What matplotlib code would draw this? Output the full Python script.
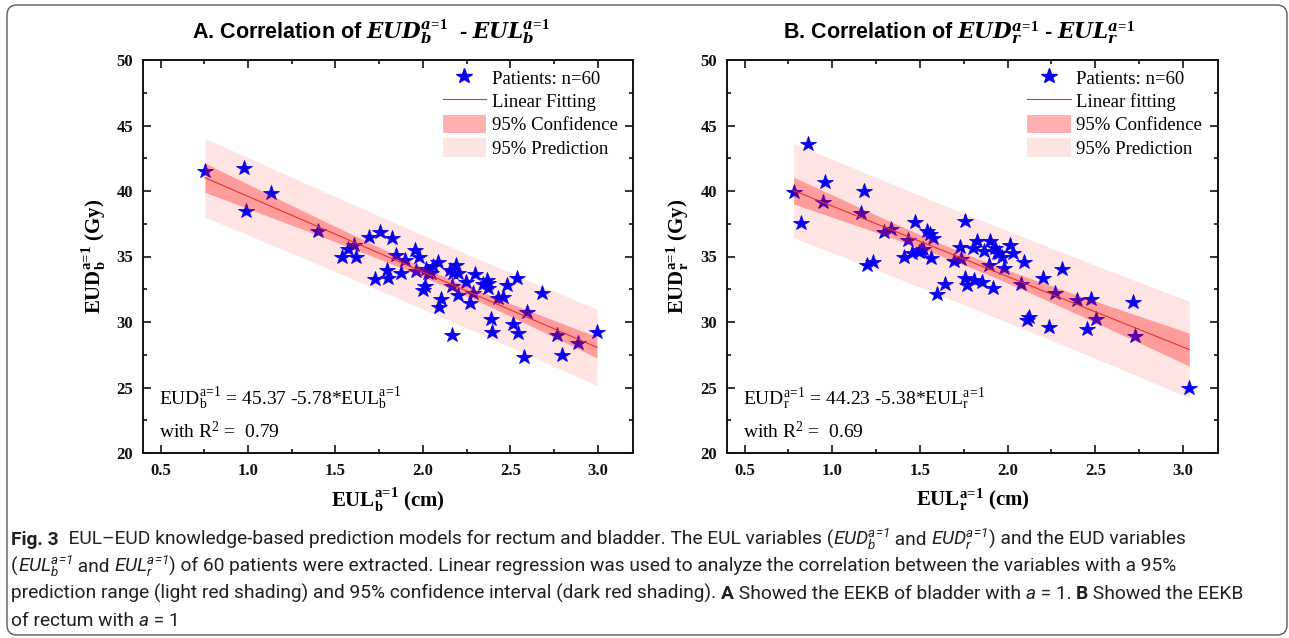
import numpy as np
import matplotlib
matplotlib.use("Agg")
import matplotlib.pyplot as plt
from matplotlib.lines import Line2D
from matplotlib.patches import Patch, FancyBboxPatch
from matplotlib.ticker import MultipleLocator, FormatStrFormatter

# ---------------- data ----------------
eul_b = [0.754, 0.978, 0.991, 1.134, 1.402, 1.536, 1.574, 1.608, 1.618, 1.694,
         1.756, 1.822, 1.727, 1.794, 1.799, 1.847, 1.872, 1.899, 1.954, 1.977,
         1.958, 2.010, 2.000, 2.019, 2.044, 2.057, 2.083, 2.092, 2.105, 2.153,
         2.191, 2.200, 2.163, 2.200, 2.163, 2.245, 2.268, 2.287, 2.300, 2.344,
         2.373, 2.373, 2.386, 2.392, 2.430, 2.459, 2.478, 2.536, 2.516, 2.541,
         2.579, 2.596, 2.682, 2.768, 2.793, 2.883, 2.994, 2.172, 2.029, 2.363]
eud_b = [41.53, 41.78, 38.50, 39.87, 36.95, 34.98, 35.60, 35.88, 34.94, 36.51,
         36.90, 36.39, 33.28, 33.97, 33.33, 35.11, 33.77, 34.73, 35.50, 34.98,
         33.89, 32.75, 32.44, 34.02, 33.72, 34.27, 34.60, 31.17, 31.73, 33.97,
         34.35, 33.72, 32.77, 32.06, 29.00, 33.03, 31.43, 32.24, 33.64, 32.88,
         32.95, 32.57, 30.20, 29.26, 31.81, 31.89, 32.82, 33.38, 29.85, 29.14,
         27.31, 30.74, 32.24, 29.00, 27.50, 28.37, 29.26, 33.72, 33.72, 33.20]

eul_r = [0.780, 0.820, 0.862, 0.948, 0.958, 1.162, 1.181, 1.196, 1.234, 1.297,
         1.334, 1.411, 1.434, 1.454, 1.473, 1.497, 1.520, 1.539, 1.558, 1.572,
         1.564, 1.597, 1.644, 1.692, 1.730, 1.734, 1.759, 1.759, 1.768, 1.803,
         1.826, 1.854, 1.863, 1.892, 1.902, 1.917, 1.930, 1.949, 1.968, 1.982,
         2.012, 2.031, 2.079, 2.092, 2.108, 2.121, 2.201, 2.235, 2.273, 2.312,
         2.398, 2.455, 2.474, 2.502, 2.718, 2.727, 3.036, 1.508, 1.940, 1.806]
eud_r = [39.90, 37.58, 43.59, 39.14, 40.71, 38.34, 40.02, 34.35, 34.56, 36.85,
         37.10, 34.98, 36.26, 35.24, 37.66, 35.32, 35.55, 36.97, 36.72, 36.44,
         34.86, 32.14, 32.88, 34.68, 35.75, 34.81, 37.73, 33.38, 32.82, 35.63,
         36.18, 33.08, 35.44, 34.35, 36.18, 32.62, 35.63, 35.24, 34.98, 34.15,
         35.88, 35.24, 32.90, 34.56, 30.15, 30.40, 33.38, 29.64, 32.19, 34.02,
         31.68, 29.44, 31.76, 30.23, 31.55, 28.93, 24.98, 35.47, 35.24, 33.20]

# fitted models: intercept, slope, R^2
fit_b = (45.37, -5.78)
fit_r = (44.23, -5.38)
r2_b = 0.79
r2_r = 0.69
n_patients = 60

x_ticks = [0.5, 1.0, 1.5, 2.0, 2.5, 3.0]
y_ticks = [20, 25, 30, 35, 40, 45, 50]

# ---------------- fonts ----------------
CAP_FONT = "Roboto"
plt.rcParams.update({
    "mathtext.fontset": "custom",
    "mathtext.rm": "Liberation Serif",
    "mathtext.it": "Liberation Serif:italic",
    "mathtext.bf": "Liberation Serif:bold",
    "mathtext.bfit": "DejaVu Serif:italic:bold",
    "mathtext.sf": CAP_FONT + ":italic",
})
SERIF = ["Liberation Serif", "DejaVu Serif"]
SANS = ["Liberation Sans", "DejaVu Sans"]
CAPF = [CAP_FONT, "DejaVu Sans"]

W, H = 1289, 638
fig = plt.figure(figsize=(W / 100, H / 100), dpi=100)
fig.patch.set_facecolor("white")

# full-figure overlay in pixel units for frame and caption
bg = fig.add_axes([0, 0, 1, 1], zorder=-5)
bg.set_xlim(0, W)
bg.set_ylim(H, 0)
bg.axis("off")
bg.add_patch(FancyBboxPatch((7, 5), W - 9, H - 8,
                            boxstyle="round,pad=0,rounding_size=10",
                            fc="none", ec="#5a5a5a", lw=1.0))

BLUE = "#0800ee"
RED_LINE = "#e8302a"
CONF_ALPHA = 0.31
PRED_ALPHA = 0.105
T_CRIT = 2.0017  # t(0.975, df=58)
A1 = r"\!=\!"    # tight '=' inside the a=1 scripts


def bands(x, y, coef, xs):
    x = np.asarray(x)
    y = np.asarray(y)
    n = len(x)
    resid = y - (coef[0] + coef[1] * x)
    s = np.sqrt(np.sum(resid ** 2) / (n - 2))
    xbar = x.mean()
    sxx = np.sum((x - xbar) ** 2)
    conf = T_CRIT * s * np.sqrt(1.0 / n + (xs - xbar) ** 2 / sxx)
    pred = T_CRIT * s * np.sqrt(1.0 + 1.0 / n + (xs - xbar) ** 2 / sxx)
    return conf, pred


def panel(rect, x, y, coef, r2, tag, sub, fit_label, title_x):
    ax = fig.add_axes(rect)
    ax.set_xlim(0.4, 3.2)
    ax.set_ylim(20, 50)

    xs = np.linspace(min(x), max(x), 200)
    yfit = coef[0] + coef[1] * xs
    conf, pred = bands(x, y, coef, xs)
    # prediction band under the points, confidence band over them
    ax.fill_between(xs, yfit - pred, yfit + pred, color="red",
                    alpha=PRED_ALPHA, lw=0, zorder=1)
    ax.plot(x, y, linestyle="none", marker="*", markersize=11.5,
            color=BLUE, markeredgecolor=BLUE, markeredgewidth=0.6, zorder=2)
    ax.fill_between(xs, yfit - conf, yfit + conf, color="red",
                    alpha=CONF_ALPHA, lw=0, zorder=4)
    ax.plot(xs, yfit, color=RED_LINE, lw=0.8, zorder=5)

    ax.set_xticks(x_ticks)
    ax.set_yticks(y_ticks)
    ax.xaxis.set_minor_locator(MultipleLocator(0.25))
    ax.yaxis.set_minor_locator(MultipleLocator(2.5))
    ax.xaxis.set_major_formatter(FormatStrFormatter("%.1f"))
    ax.tick_params(which="both", direction="in", top=True, right=True,
                   width=1.2, colors="#111111")
    ax.tick_params(which="major", length=5.8, pad=7)
    ax.tick_params(which="minor", length=3)
    for lab in ax.get_xticklabels() + ax.get_yticklabels():
        lab.set_fontfamily(SERIF)
        lab.set_fontweight("bold")
        lab.set_fontsize(12)
    for sp in ax.spines.values():
        sp.set_linewidth(1.4)
        sp.set_color("#111111")

    ax.set_xlabel(r"$\mathbf{EUL}_{\mathbf{%s}}^{\mathbf{a}%s\mathbf{1}}$ (cm)" % (sub, A1),
                  fontfamily=SERIF, fontweight="bold", fontsize=15, va="center")
    ax.xaxis.set_label_coords(0.5, -0.12)
    ax.set_ylabel(r"$\mathbf{EUD}_{\mathbf{%s}}^{\mathbf{a}%s\mathbf{1}}$ (Gy)" % (sub, A1),
                  fontfamily=SERIF, fontweight="bold", fontsize=15, va="center")
    ax.yaxis.set_label_coords(-0.10, 0.5)

    gap = "  - " if tag == "A" else " - "
    title = (tag + ". Correlation of "
             + r"$\mathbfit{EUD}_{\mathbfit{%s}}^{\mathbfit{a}%s\mathbf{1}}$" % (sub, A1)
             + gap
             + r"$\mathbfit{EUL}_{\mathbfit{%s}}^{\mathbfit{a}%s\mathbf{1}}$" % (sub, A1))
    ax.text(title_x, 1.055, title, transform=ax.transAxes, ha="center",
            va="baseline", fontfamily=SANS, fontweight="bold", fontsize=15.5)

    ax.text(0.033, 0.122,
            r"$\mathrm{EUD}_{\mathrm{%s}}^{\mathrm{a}%s1}$ = %.2f %.2f*$\mathrm{EUL}_{\mathrm{%s}}^{\mathrm{a}%s1}$"
            % (sub, A1, coef[0], coef[1], sub, A1),
            transform=ax.transAxes, fontfamily=SERIF, fontsize=14, va="baseline")
    ax.text(0.033, 0.038, r"with R$^2$ =  %.2f" % r2,
            transform=ax.transAxes, fontfamily=SERIF, fontsize=14, va="baseline")

    handles = [
        Line2D([], [], linestyle="none", marker="*", markersize=11.5, color=BLUE),
        Line2D([], [], color=RED_LINE, lw=0.8),
        Patch(facecolor="red", alpha=CONF_ALPHA, lw=0),
        Patch(facecolor="red", alpha=PRED_ALPHA, lw=0),
    ]
    labels = ["Patients: n=%d" % n_patients, fit_label,
              "95% Confidence", "95% Prediction"]
    ax.legend(handles, labels, loc="upper left", bbox_to_anchor=(0.612, 0.98),
              frameon=False, borderpad=0, borderaxespad=0,
              handlelength=2.3, handleheight=1.15, handletextpad=0.3,
              labelspacing=0.2, prop={"family": SERIF, "size": 13.5})
    return ax


panel([143 / W, 1 - 453 / H, 490 / W, 393 / H], eul_b, eud_b, fit_b, r2_b,
      "A", "b", "Linear Fitting", 0.466)
panel([727 / W, 1 - 453 / H, 491 / W, 393 / H], eul_r, eud_r, fit_r, r2_r,
      "B", "r", "Linear fitting", 0.473)

# ---------------- caption ----------------
CAP_COLOR = "#231f20"
CAP_LEFT = 11
CAP_LINE_ENDS = [1243, 1210, 1238, None]
renderer = fig.canvas.get_renderer()


def sf(name, org):
    return r"$\mathsf{%s_%s^{a%s1}}$" % (name, org, A1)


caption = [
    [("Fig. 3", "b"),
     ("  EUL\u2013EUD knowledge-based prediction models for rectum and bladder. "
      "The EUL variables (", "r"),
     (sf("EUD", "b"), "r"), (" and ", "r"),
     (sf("EUD", "r"), "r"), (") and the EUD variables", "r")],
    [("(", "r"), (sf("EUL", "b"), "r"), (" and ", "r"),
     (sf("EUL", "r"), "r"),
     (") of 60 patients were extracted. Linear regression was used to analyze "
      "the correlation between the variables with a 95%", "r")],
    [("prediction range (light red shading) and 95% confidence interval "
      "(dark red shading). ", "r"), ("A", "b"),
     (" Showed the EEKB of bladder with ", "r"), ("a", "i"), (" = 1. ", "r"),
     ("B", "b"), (" Showed the EEKB", "r")],
    [("of rectum with ", "r"), ("a", "i"), (" = 1", "r")],
]


def run_kw(style, size):
    kw = dict(fontsize=size, color=CAP_COLOR, va="baseline", ha="left",
              family=CAPF)
    if style == "b":
        kw["fontweight"] = "bold"
    elif style == "i":
        kw["fontstyle"] = "italic"
    return kw


def run_width(txt, kw):
    if txt.startswith("$"):
        t = bg.text(0, 0, txt, **kw)
        w = t.get_window_extent(renderer).width
        t.remove()
        return w
    t1 = bg.text(0, 0, "|" + txt + "|", **kw)
    t2 = bg.text(0, 0, "||", **kw)
    w = t1.get_window_extent(renderer).width - t2.get_window_extent(renderer).width
    t1.remove()
    t2.remove()
    return w


def line_width(runs, size):
    return sum(run_width(t, run_kw(s, size)) for t, s in runs)


# one caption size, small enough that every wrapped line fits its width
base = 12.0
cap_size = min(base * (end - CAP_LEFT) / line_width(line, base)
               for line, end in zip(caption, CAP_LINE_ENDS) if end)


def draw_runs(x0, y, runs, size):
    x = x0
    for txt, style in runs:
        kw = run_kw(style, size)
        w = run_width(txt, kw)
        bg.text(x, y, txt, **kw)
        x += w


for i, line in enumerate(caption):
    draw_runs(CAP_LEFT, 545 + i * 27, line, cap_size)

fig.savefig("out.png", dpi=100, facecolor="white")
